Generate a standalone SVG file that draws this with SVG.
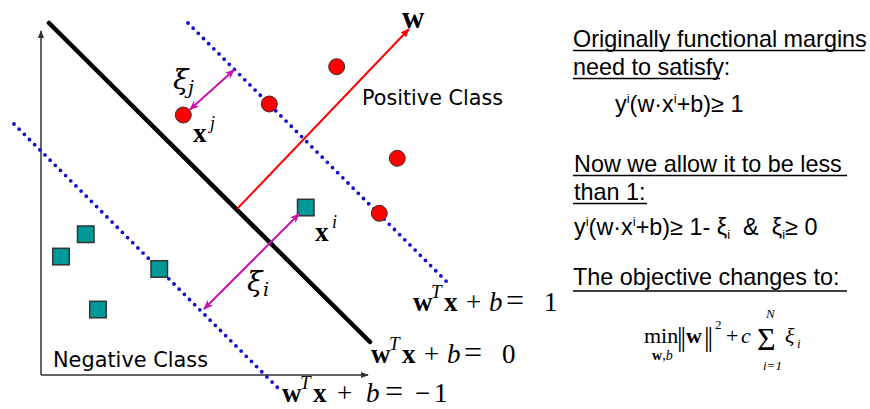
<svg xmlns="http://www.w3.org/2000/svg" width="870" height="409" viewBox="0 0 870 409">
<defs>
<style>
.axis{stroke:#333;stroke-width:1.5;fill:none}
.sep{stroke:#000;stroke-width:4.5;stroke-linecap:round;fill:none}
.dot{stroke:#1010d0;stroke-width:3.8;stroke-linecap:round;stroke-dasharray:0 7.3;fill:none}
.pos{fill:#ff0000;stroke:#333;stroke-width:1}
.neg{fill:#009999;stroke:#333;stroke-width:1.5}
.red{stroke:#ff0000;stroke-width:2;fill:none}
.mag{stroke:#cc11aa;stroke-width:2;fill:none}
.m{font-family:"Liberation Serif","DejaVu Serif",serif;font-size:27px;fill:#000}
.g{font-family:"DejaVu Serif","Liberation Serif",serif;font-style:italic;font-size:28px;fill:#000}
.b{font-weight:bold}
.it{font-style:italic}
.cls{font-family:"DejaVu Sans","Liberation Sans",sans-serif;font-size:21px;fill:#000}
.t{font-family:"Liberation Sans",Arial,sans-serif;font-size:23.4px;fill:#000}
.f{font-family:"Liberation Serif","DejaVu Serif",serif;fill:#000}
.ul{stroke:#000;stroke-width:1.6}
</style>
<marker id="ah" viewBox="0 0 10 10" refX="9" refY="5" markerWidth="8" markerHeight="8" markerUnits="userSpaceOnUse" orient="auto"><path d="M0,1 L10,5 L0,9 z" fill="#333"/></marker>
<marker id="ahr" viewBox="0 0 10 10" refX="9" refY="5" markerWidth="9" markerHeight="9" markerUnits="userSpaceOnUse" orient="auto"><path d="M0,1 L10,5 L0,9 z" fill="#ff0000"/></marker>
<marker id="ahm" viewBox="0 0 10 10" refX="9" refY="5" markerWidth="10" markerHeight="10" markerUnits="userSpaceOnUse" orient="auto-start-reverse"><path d="M0,1 L10,5 L0,9 L3,5 z" fill="#cc11aa"/></marker>
</defs>
<rect width="870" height="409" fill="#fff"/>

<g id="axes">
<line class="axis" x1="41" y1="375" x2="41" y2="31" marker-end="url(#ah)"/>
<line class="axis" x1="41" y1="375" x2="368" y2="375" marker-end="url(#ah)"/>
</g>

<g id="hyperplanes">
<line class="sep" x1="49" y1="23" x2="370" y2="342"/>
<line class="dot" x1="188" y1="23" x2="449" y2="284"/>
<line class="dot" x1="14" y1="124" x2="280" y2="390"/>
</g>

<g id="positive-points">
<circle id="p1" class="pos" cx="336.7" cy="66.7" r="8"/>
<circle id="p2" class="pos" cx="269.3" cy="104" r="8"/>
<circle id="xj" class="pos" cx="183.3" cy="115" r="8"/>
<circle id="p4" class="pos" cx="397.3" cy="158.3" r="8"/>
<circle id="p5" class="pos" cx="379.3" cy="213.3" r="8"/>
</g>
<g id="negative-points">
<rect id="xi" class="neg" x="297.5" y="199.3" width="16.5" height="16.5"/>
<rect id="n1" class="neg" x="77.5" y="226" width="16.5" height="16.5"/>
<rect id="n2" class="neg" x="52.8" y="248.3" width="16.5" height="16.5"/>
<rect id="n3" class="neg" x="151" y="260.7" width="16.5" height="16.5"/>
<rect id="n4" class="neg" x="89.7" y="301.3" width="16.5" height="16.5"/>
</g>

<g id="connectors">
<line class="red" x1="237" y1="209" x2="409" y2="29" marker-end="url(#ahr)"/>
<line class="mag" x1="190" y1="109.5" x2="234" y2="70" marker-start="url(#ahm)" marker-end="url(#ahm)"/>
<line class="mag" x1="204" y1="309" x2="299" y2="214" marker-start="url(#ahm)" marker-end="url(#ahm)"/>
</g>

<g id="labels">
<text class="m b" x="402" y="28" style="font-size:31px">w</text>
<text class="cls" x="362" y="105" textLength="141" lengthAdjust="spacingAndGlyphs">Positive Class</text>
<text class="cls" x="53" y="367" textLength="155" lengthAdjust="spacingAndGlyphs">Negative Class</text>
<text class="g" x="173" y="89">ξ<tspan font-size="19" x="188" y="94">j</tspan></text>
<text class="m b" x="193" y="142">x<tspan class="it" font-weight="normal" font-size="18" x="210" y="129">j</tspan></text>
<text class="m b" x="315" y="241">x<tspan class="it" font-weight="normal" font-size="18" x="332" y="228">i</tspan></text>
<text class="g" x="247" y="291">ξ<tspan font-size="19" x="263" y="296">i</tspan></text>

<text class="m" x="413" y="311"><tspan class="b">w</tspan><tspan class="it" font-size="19" x="431" y="298">T</tspan><tspan class="b" x="444" y="311">x</tspan><tspan x="466">+</tspan><tspan class="it" x="489">b</tspan><tspan x="506" font-size="32">=</tspan><tspan x="544">1</tspan></text>
<text class="m" x="371" y="363"><tspan class="b">w</tspan><tspan class="it" font-size="19" x="389" y="350">T</tspan><tspan class="b" x="402" y="363">x</tspan><tspan x="424">+</tspan><tspan class="it" x="447">b</tspan><tspan x="464" font-size="32">=</tspan><tspan x="502">0</tspan></text>
<text class="m" x="282" y="402"><tspan class="b">w</tspan><tspan class="it" font-size="19" x="300" y="389">T</tspan><tspan class="b" x="313" y="402">x</tspan><tspan x="337">+</tspan><tspan class="it" x="366">b</tspan><tspan x="385" font-size="32">=</tspan><tspan x="415">−</tspan><tspan x="434">1</tspan></text>
</g>

<g id="text-panel">
<text class="t" x="573" y="47">Originally functional margins</text>
<line class="ul" x1="573" y1="50.5" x2="865" y2="50.5"/>
<text class="t" x="573" y="75">need to satisfy:</text>
<line class="ul" x1="573" y1="78.5" x2="720" y2="78.5"/>
<text class="t" x="615" y="112">y<tspan font-size="13" dy="-9">i</tspan><tspan dy="9">(w·x</tspan><tspan font-size="13" dy="-9">i</tspan><tspan dy="9">+b)≥ 1</tspan></text>

<text class="t" x="574" y="172">Now we allow it to be less</text>
<line class="ul" x1="573" y1="175.5" x2="847" y2="175.5"/>
<text class="t" x="574" y="200">than 1:</text>
<line class="ul" x1="573" y1="203.5" x2="647" y2="203.5"/>
<text class="t" x="574" y="235">y<tspan font-size="13" dy="-9">i</tspan><tspan dy="9">(w·x</tspan><tspan font-size="13" dy="-9">i</tspan><tspan dy="9">+b)≥ 1- ξ</tspan><tspan font-size="13" dy="4">i</tspan><tspan dy="-4" xml:space="preserve">  &amp;  ξ</tspan><tspan font-size="13" dy="4">i</tspan><tspan dy="-4">≥ 0</tspan></text>

<text class="t" x="573" y="285">The objective changes to:</text>
<line class="ul" x1="573" y1="291" x2="847" y2="291"/>

<g id="objective">
<text class="f" x="644" y="343" font-size="22">min</text>
<text class="f" x="652" y="360" font-size="14"><tspan font-weight="bold">w</tspan>,<tspan font-style="italic">b</tspan></text>
<text class="f" x="677" y="346" font-size="28" letter-spacing="-2">||</text>
<text class="f" x="686" y="343" font-size="22" font-weight="bold">w</text>
<text class="f" x="704" y="346" font-size="28" letter-spacing="-2">||</text>
<text class="f" x="715" y="329" font-size="13">2</text>
<text class="f" x="726" y="343" font-size="22">+</text>
<text class="f" x="741" y="343" font-size="22" font-style="italic">c</text>
<text class="f" x="757" y="350" font-size="32">Σ</text>
<text class="f" x="766" y="318" font-size="13" font-style="italic">N</text>
<text class="f" x="763" y="370" font-size="13" font-style="italic">i=1</text>
<text class="f" x="785" y="343" font-size="22" font-style="italic">ξ</text>
<text class="f" x="797" y="348" font-size="13" font-style="italic">i</text>
</g>
</g>
</svg>
